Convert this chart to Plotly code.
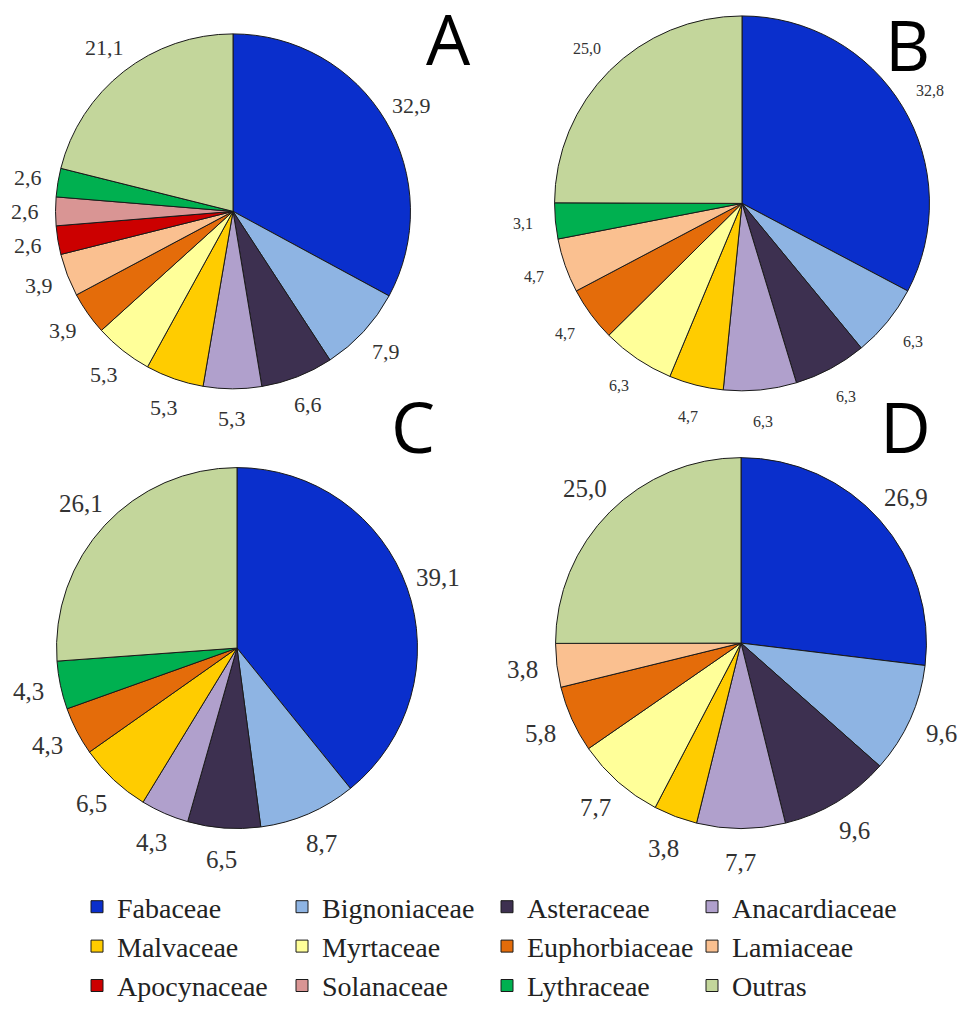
import math
import plotly.graph_objects as go

W, H = 959, 1011

families = ["Fabaceae", "Bignoniaceae", "Asteraceae", "Anacardiaceae", "Malvaceae",
            "Myrtaceae", "Euphorbiaceae", "Lamiaceae", "Apocynaceae", "Solanaceae",
            "Lythraceae", "Outras"]
colors = ["#0A2FCC", "#8EB4E3", "#3D3050", "#B0A0CC", "#FFCC00", "#FFFF99",
          "#E46C0A", "#FAC090", "#CC0000", "#D99594", "#00B050", "#C3D69B"]
color_map = dict(zip(families, colors))

labels_A = ["Fabaceae", "Bignoniaceae", "Asteraceae", "Anacardiaceae", "Malvaceae", "Myrtaceae",
            "Euphorbiaceae", "Lamiaceae", "Apocynaceae", "Solanaceae", "Lythraceae", "Outras"]
values_A = [32.9, 7.9, 6.6, 5.3, 5.3, 5.3, 3.9, 3.9, 2.6, 2.6, 2.6, 21.1]

labels_B = ["Fabaceae", "Bignoniaceae", "Asteraceae", "Anacardiaceae", "Malvaceae", "Myrtaceae",
            "Euphorbiaceae", "Lamiaceae", "Lythraceae", "Outras"]
values_B = [32.8, 6.3, 6.3, 6.3, 4.7, 6.3, 4.7, 4.7, 3.1, 25.0]

labels_C = ["Fabaceae", "Bignoniaceae", "Asteraceae", "Anacardiaceae", "Malvaceae",
            "Euphorbiaceae", "Lythraceae", "Outras"]
values_C = [39.1, 8.7, 6.5, 4.3, 6.5, 4.3, 4.3, 26.1]

labels_D = ["Fabaceae", "Bignoniaceae", "Asteraceae", "Anacardiaceae", "Malvaceae", "Myrtaceae",
            "Euphorbiaceae", "Lamiaceae", "Outras"]
values_D = [26.9, 9.6, 9.6, 7.7, 3.8, 7.7, 5.8, 3.8, 25.0]

# (letter, labels, values, centre x, centre y, radius, label font size, label gap) in pixels
panels = [
    ("A", labels_A, values_A, 233, 212, 178, 22, 30),
    ("B", labels_B, values_B, 742, 204, 188, 16, 32),
    ("C", labels_C, values_C, 237, 650, 181, 25, 32),
    ("D", labels_D, values_D, 741, 645, 186, 25, 34),
]
letter_pos = {"A": (448, 38), "B": (907, 44), "C": (413, 427), "D": (905, 427)}

fig = go.Figure()
for i, (name, labs, vals, cx, cy, r, fs, gap) in enumerate(panels):
    fig.add_trace(go.Pie(
        labels=labs, values=vals, sort=False, direction="clockwise", rotation=0,
        textinfo="none",
        marker=dict(colors=[color_map[l] for l in labs], line=dict(color="#1a1a1a", width=1)),
        domain=dict(x=[(cx - r) / W, (cx + r) / W], y=[1 - (cy + r) / H, 1 - (cy - r) / H]),
        showlegend=(i == 0), name=name, hoverinfo="label+value",
    ))
    total = sum(vals)
    cum = 0.0
    for v in vals:
        th = 2 * math.pi * (cum + v / 2) / total
        cum += v
        d = r + gap
        fig.add_annotation(
            text=f"{v:.1f}".replace(".", ","),
            x=(cx + d * math.sin(th)) / W, y=1 - (cy - d * math.cos(th)) / H,
            xref="paper", yref="paper", showarrow=False,
            xanchor="center", yanchor="middle",
            font=dict(family="Liberation Serif", size=fs, color="#333333"))

for k, (x, y) in letter_pos.items():
    fig.add_annotation(text=k, x=x / W, y=1 - y / H, xref="paper", yref="paper",
                       showarrow=False, xanchor="center", yanchor="middle",
                       font=dict(family="Open Sans", size=70, color="black"))

fig.update_layout(
    width=W, height=H, margin=dict(l=0, r=0, t=0, b=0),
    paper_bgcolor="white", plot_bgcolor="white",
    legend=dict(orientation="h", x=77 / W, y=1 - 885 / H, xanchor="left", yanchor="top",
                entrywidth=160, entrywidthmode="pixels", itemwidth=30,
                font=dict(family="Liberation Serif", size=28, color="#222222"),
                traceorder="normal"),
)
fig.write_html("out.html", config={"displayModeBar": False},
               post_script="document.body.style.margin='0px';")
